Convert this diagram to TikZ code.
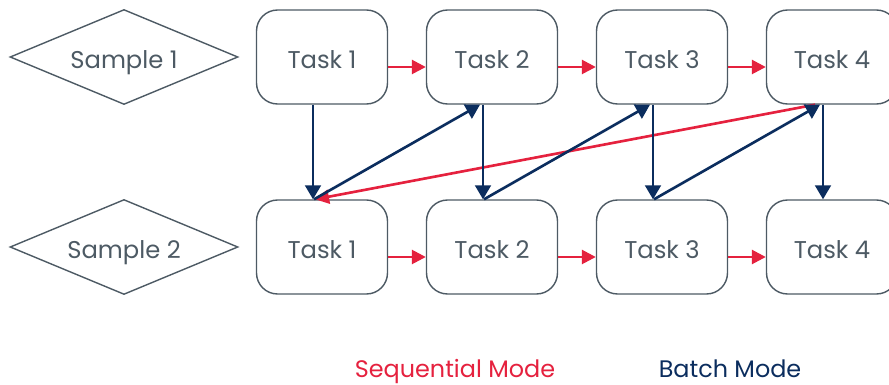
\documentclass[tikz,border=0pt]{standalone}
\usepackage{fontspec}
\setmainfont{Poppins}
\usetikzlibrary{arrows.meta,shapes.geometric}
\definecolor{modered}{HTML}{E5213E}
\definecolor{modeblue}{HTML}{0B2D5E}
\definecolor{boxgray}{HTML}{4D5A64}

\begin{document}
\begin{tikzpicture}[
  x=0.02cm, y=-0.02cm,
  font=\fontsize{13.8}{16}\selectfont,
  task/.style={draw=boxgray, line width=0.8pt, rounded corners=0.42cm,
    minimum width=2.62cm, minimum height=1.88cm, text=boxgray, fill=white,
    text height=13.4pt, text depth=0pt},
  sample/.style={diamond, draw=boxgray, line width=0.8pt, aspect=2.4,
    minimum width=4.56cm, minimum height=1.9cm, inner sep=0pt, text=boxgray,
    text height=13.4pt, text depth=0pt},
  seq/.style={-{Triangle[length=8pt,width=8pt]}, line width=1.5pt, draw=modered},
  batch/.style={-{Triangle[length=8pt,width=9pt]}, line width=1.5pt, draw=modeblue},
  legend/.style={font=\fontsize{13.6}{16}\selectfont, anchor=base, inner sep=0pt}
]
\useasboundingbox (0,0) rectangle (889,385);
% samples
\node[sample] (s1) at (124,57) {Sample 1};
\node[sample] (s2) at (124,247) {Sample 2};
% tasks, one row per sample
\foreach \i/\x in {1/322,2/492,3/662,4/832} {
  \node[task] (a\i) at (\x,57) {Task \i};
  \node[task] (b\i) at (\x,247) {Task \i};
}
% sequential mode
\foreach \i/\j in {1/2,2/3,3/4} {
  \draw[seq] ([yshift=-0.2cm]a\i.east) -- ([yshift=-0.2cm]a\j.west);
  \draw[seq] ([yshift=-0.2cm]b\i.east) -- ([yshift=-0.2cm]b\j.west);
}
\draw[seq] ([xshift=-0.34cm]a4.south) -- ([xshift=-0.14cm]b1.north);
% batch mode
\foreach \i in {1,...,4}
  \draw[batch] ([xshift=-0.18cm]a\i.south) -- ([xshift=-0.18cm]b\i.north);
\foreach \i/\j in {1/2,2/3,3/4}
  \draw[batch] ([xshift=-0.16cm]b\i.north) -- ([xshift=-0.24cm]a\j.south);
% legend
\node[legend, text=modered] (lseq) at (455,377) {Sequential Mode};
\node[legend, text=modeblue] (lbatch) at (730,377) {Batch Mode};
\end{tikzpicture}
\end{document}
